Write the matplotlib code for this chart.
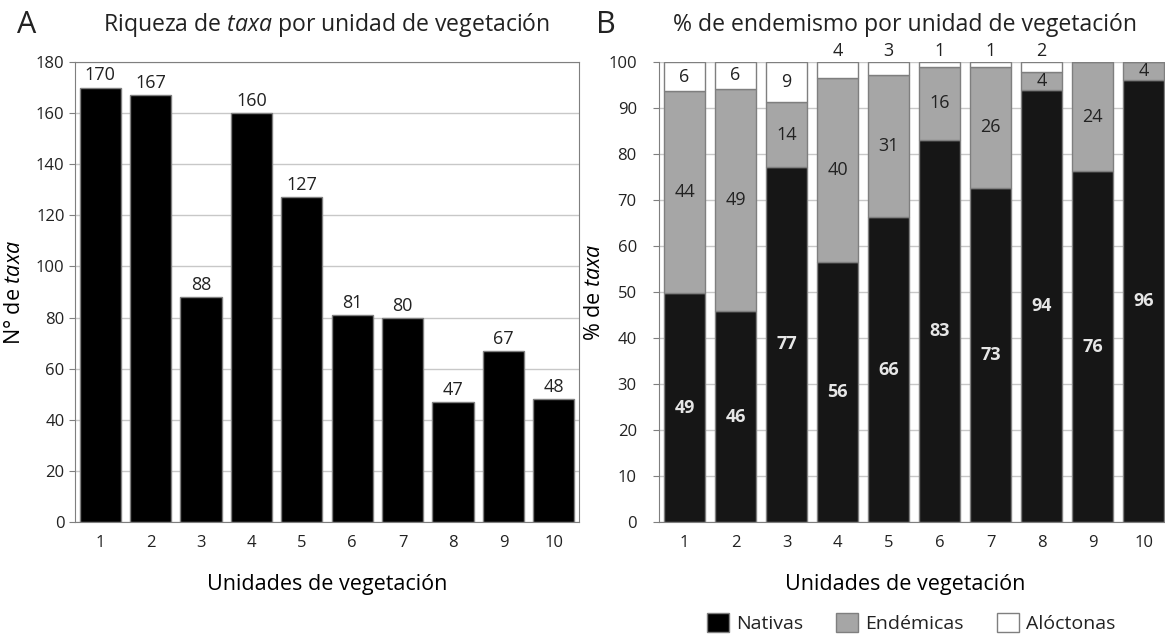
import matplotlib
matplotlib.use("Agg")
import matplotlib.pyplot as plt
from matplotlib.patches import Patch

plt.rcParams['font.family'] = ['Open Sans', 'DejaVu Sans']
plt.rcParams['mathtext.fontset'] = 'custom'
plt.rcParams['mathtext.rm'] = 'Open Sans'
plt.rcParams['mathtext.it'] = 'Open Sans:italic'
plt.rcParams['text.color'] = '#222222'

UNIDADES = [1, 2, 3, 4, 5, 6, 7, 8, 9, 10]
RIQUEZA = [170, 167, 88, 160, 127, 81, 80, 47, 67, 48]

# alturas de los segmentos (%)
NATIVAS = [49.7, 45.8, 77.2, 56.5, 66.2, 83.0, 72.6, 93.9, 76.2, 96.1]
ENDEMICAS = [44.0, 48.4, 14.0, 40.1, 31.0, 16.0, 26.4, 4.0, 23.8, 3.9]
ALOCTONAS = [6.3, 5.8, 8.8, 3.4, 2.8, 1.0, 1.0, 2.1, 0.0, 0.0]

# etiquetas que aparecen en el grafico
ETQ_NATIVAS = [49, 46, 77, 56, 66, 83, 73, 94, 76, 96]
ETQ_ENDEMICAS = [44, 49, 14, 40, 31, 16, 26, 4, 24, 4]
ETQ_ALOCTONAS = [6, 6, 9, 4, 3, 1, 1, 2, 0, 0]

GRID = '#c8c8c8'
EDGE = '#7f7f7f'


def style_axis(ax):
    ax.grid(axis='y', color=GRID, linewidth=1)
    ax.set_axisbelow(True)
    for s in ax.spines.values():
        s.set_color(EDGE)
    ax.tick_params(axis='x', length=0, pad=9, labelsize=12, colors='#222222')
    ax.tick_params(axis='y', length=4, color=EDGE, labelsize=12, colors='#222222')
    ax.set_xticks(UNIDADES)
    ax.set_xlabel("Unidades de vegetación", fontsize=15.5)
    ax.xaxis.label.set_va('center')


def main():
    fig = plt.figure(figsize=(11.65, 6.36), dpi=100)

    # panel A
    ax1 = fig.add_axes([0.0644, 0.1792, 0.4326, 0.7233])
    bars = ax1.bar(UNIDADES, RIQUEZA, width=0.82, color='black', edgecolor=EDGE, linewidth=1, zorder=2)
    for b, v in zip(bars, RIQUEZA):
        ax1.text(b.get_x() + b.get_width() / 2, v + 1.2, str(v), ha='center', va='bottom', fontsize=13)
    ax1.set_xlim(0.5, 10.5)
    ax1.set_ylim(0, 180)
    ax1.set_yticks(range(0, 181, 20))
    style_axis(ax1)
    ax1.xaxis.set_label_coords(0.5, -0.135)
    ax1.set_ylabel("N° de $taxa$", fontsize=15.5)
    ax1.yaxis.set_label_coords(-0.10, 0.5)
    ax1.set_title("Riqueza de $taxa$ por unidad de vegetación", fontsize=16.6, pad=22)
    fig.text(0.015, 0.96, "A", fontsize=22, va='center')

    # panel B
    ax2 = fig.add_axes([0.5657, 0.1792, 0.4378, 0.7233])
    ax2.bar(UNIDADES, NATIVAS, width=0.82, color='#161616', edgecolor=EDGE, linewidth=1, zorder=2)
    bottom2 = [n + e for n, e in zip(NATIVAS, ENDEMICAS)]
    ax2.bar(UNIDADES, ENDEMICAS, bottom=NATIVAS, width=0.82, color='#a6a6a6', edgecolor=EDGE, linewidth=1, zorder=2)
    ax2.bar(UNIDADES, ALOCTONAS, bottom=bottom2, width=0.82, color='white', edgecolor=EDGE, linewidth=1, zorder=2)
    for i, x in enumerate(UNIDADES):
        n, e, a = NATIVAS[i], ENDEMICAS[i], ALOCTONAS[i]
        ax2.text(x, n / 2, str(ETQ_NATIVAS[i]), ha='center', va='center', fontsize=13,
                 color='#e6e6e6', fontweight='bold')
        ax2.text(x, n + e / 2, str(ETQ_ENDEMICAS[i]), ha='center', va='center', fontsize=13)
        if a >= 5:
            ax2.text(x, n + e + a / 2, str(ETQ_ALOCTONAS[i]), ha='center', va='center', fontsize=13)
        elif ETQ_ALOCTONAS[i] > 0:
            ax2.text(x, 102.3, str(ETQ_ALOCTONAS[i]), ha='center', va='center', fontsize=13, clip_on=False)
    ax2.set_xlim(0.5, 10.5)
    ax2.set_ylim(0, 100)
    ax2.set_yticks(range(0, 101, 10))
    style_axis(ax2)
    ax2.spines['top'].set_visible(False)
    ax2.spines['right'].set_visible(False)
    ax2.tick_params(axis='y', pad=12)
    ax2.xaxis.set_label_coords(0.482, -0.135)
    ax2.set_ylabel("% de $taxa$", fontsize=15.5)
    ax2.yaxis.set_label_coords(-0.106, 0.5)
    ax2.set_title("% de endemismo por unidad de vegetación", fontsize=16.6, pad=22, x=0.482)
    fig.text(0.512, 0.96, "B", fontsize=22, va='center')

    handles = [Patch(facecolor='black', edgecolor=EDGE, label='Nativas'),
               Patch(facecolor='#a6a6a6', edgecolor=EDGE, label='Endémicas'),
               Patch(facecolor='white', edgecolor=EDGE, label='Alóctonas')]
    fig.legend(handles=handles, ncol=3, loc='center', bbox_to_anchor=(0.782, 0.02),
               frameon=False, fontsize=14, handlelength=1.15, handleheight=1.15,
               columnspacing=1.7, handletextpad=0.35, borderpad=0.1)

    plt.savefig("out.png", dpi=100)


if __name__ == "__main__":
    main()
